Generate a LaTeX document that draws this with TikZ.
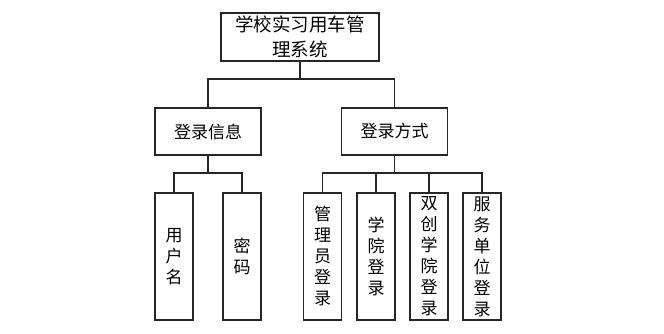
\documentclass[tikz,border=0pt]{standalone}
\usepackage{fontspec}
\setmainfont{Noto Sans CJK SC}
\begin{document}
\begin{tikzpicture}[x=1pt,y=-1pt,
  box/.style={draw=black!85, line width=1.1pt, inner sep=0pt, align=center},
  topbox/.style={box, minimum width=158pt, minimum height=48pt, font=\fontsize{18.5}{25}\selectfont},
  midbox/.style={box, minimum width=106pt, minimum height=47pt, font=\fontsize{17}{21}\selectfont},
  leaf/.style={box, minimum width=38pt, minimum height=127pt, font=\fontsize{17}{21}\selectfont},
  conn/.style={draw=black!85, line width=1.1pt}]
\useasboundingbox (0,0) rectangle (664,334);
\node[topbox] (top) at (300,37) {学校实习用车管\\理系统};
\node[midbox] (ml) at (208,131.5) {登录信息};
\node[midbox] (mr) at (394.5,131.5) {登录方式};
\node[leaf] (l1) at (174,256.5) {用\\户\\名};
\node[leaf] (l2) at (242,256.5) {密\\码};
\node[leaf] (l3) at (322.5,256.5) {管\\理\\员\\登\\录};
\node[leaf] (l4) at (376,256.5) {学\\院\\登\\录};
\node[leaf] (l5) at (429,256.5) {双\\创\\学\\院\\登\\录};
\node[leaf] (l6) at (482,256.5) {服\\务\\单\\位\\登\\录};
\coordinate (b1) at (300,79);
\coordinate (b2) at (208,173);
\coordinate (b3) at (394.5,173);
\draw[conn] (top.south) -- (b1);
\draw[conn] (ml.north) -- (ml.north |- b1) -- (mr.north |- b1) -- (mr.north);
\draw[conn] (ml.south) -- (b2);
\draw[conn] (l1.north) -- (l1.north |- b2) -- (l2.north |- b2) -- (l2.north);
\draw[conn] (mr.south) -- (b3);
\draw[conn] (l3.north) -- (l3.north |- b3) -- (l6.north |- b3) -- (l6.north);
\draw[conn] (l4.north) -- (l4.north |- b3);
\draw[conn] (l5.north) -- (l5.north |- b3);
\end{tikzpicture}
\end{document}
